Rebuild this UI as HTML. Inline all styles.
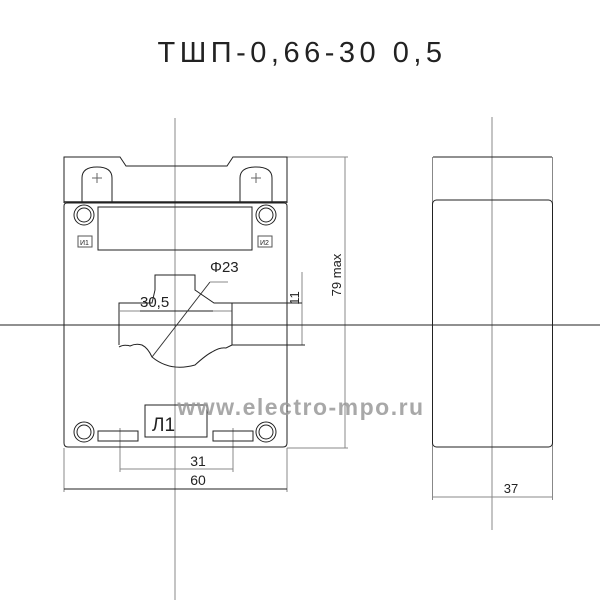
<!DOCTYPE html>
<html><head><meta charset="utf-8"><style>
body{margin:0;background:#fff;}
svg text{font-family:"Liberation Sans","DejaVu Sans",sans-serif;}
</style></head><body>
<svg width="600" height="600" viewBox="0 0 600 600" xmlns="http://www.w3.org/2000/svg">
<rect width="600" height="600" fill="#fff"/>
<text x="302" y="62" font-size="29" text-anchor="middle" letter-spacing="4.5" fill="#222">ТШП-0,66-30 0,5</text>
<g stroke="#888" stroke-width="1" fill="none">
  <line x1="175" y1="118" x2="175" y2="600"/>
  <line x1="492" y1="117" x2="492" y2="530"/>
  <line x1="287" y1="157" x2="348" y2="157"/>
  <line x1="287" y1="448" x2="348" y2="448"/>
  <line x1="345" y1="157" x2="345" y2="448"/>
  <line x1="64" y1="448" x2="64" y2="492"/>
  <line x1="287" y1="448" x2="287" y2="492"/>
  <line x1="120" y1="428" x2="120" y2="472"/>
  <line x1="233" y1="428" x2="233" y2="472"/>
  <line x1="120" y1="469" x2="233" y2="469"/>
  <line x1="432.5" y1="157" x2="432.5" y2="500"/>
  <line x1="552.5" y1="157" x2="552.5" y2="500"/>
  <line x1="432" y1="497" x2="553" y2="497"/>
  <line x1="302" y1="272" x2="302" y2="345"/>
</g>
<g stroke="#222" stroke-width="1" fill="none">
  <line x1="0" y1="325" x2="600" y2="325"/>
  <line x1="64" y1="489" x2="287" y2="489"/>
  <line x1="433" y1="157" x2="552" y2="157"/>
  <rect x="432.5" y="200" width="120" height="247" rx="4"/>
  <path d="M64 203 V157 H120 L126 166 H227 L233 157 H287 V203"/>
  <line x1="64" y1="202" x2="287" y2="202" stroke-width="1.5"/>
  <path d="M82 202 V178 Q82 167 97 167 Q112 167 112 178 V202"/>
  <path d="M240 202 V178 Q240 167 256 167 Q272 167 272 178 V202"/>
  <path d="M92 178 H102 M97 173 V183 M251 178 H261 M256 173 V183" stroke="#666"/>
  <path d="M64 206 Q64 203 67 203 H284 Q287 203 287 206 V443 Q287 447 283 447 H68 Q64 447 64 443 Z"/>
  <circle cx="84" cy="215" r="10"/><circle cx="84" cy="215" r="7"/>
  <circle cx="266" cy="215" r="10"/><circle cx="266" cy="215" r="7"/>
  <circle cx="84" cy="432" r="10"/><circle cx="84" cy="432" r="7"/>
  <circle cx="266" cy="432" r="10"/><circle cx="266" cy="432" r="7"/>
  <rect x="98" y="207" width="154" height="43"/>
  <rect x="78" y="236" width="14" height="11" stroke="#555"/>
  <rect x="258" y="236" width="14" height="11" stroke="#555"/>
  <rect x="98" y="431" width="40" height="10"/>
  <rect x="213" y="431" width="40" height="10"/>
  <rect x="145" y="405" width="62" height="32"/>
  <path d="M119 345 V303 H152 L155 290 V275 H195 V290 L214 303 H302"/>
  <line x1="119" y1="311" x2="232" y2="311" stroke="#888"/>
  <line x1="232" y1="303" x2="232" y2="345"/>
  <line x1="232" y1="345" x2="305" y2="345"/>
  <path d="M119 347 Q124 344 130 346 Q136 343 142 345 Q148 348 152 357 Q170 372 195 365 Q206 355 212 352 Q220 347 226 348 L232 345"/>
  <line x1="140" y1="311" x2="213" y2="311"/>
  <line x1="152" y1="357" x2="210" y2="282" stroke="#333"/>
  <line x1="210" y1="282" x2="228" y2="282" stroke="#888"/>
</g>
<g fill="#222">
  <text x="210" y="272" font-size="15">Φ23</text>
  <text x="140" y="307" font-size="15">30,5</text>
  <text x="299" y="298" font-size="13" transform="rotate(-90 299 298)" text-anchor="middle">11</text>
  <text x="341" y="275" font-size="13" transform="rotate(-90 341 275)" text-anchor="middle">79 max</text>
  <text x="80" y="245" font-size="7">И1</text>
  <text x="260" y="245" font-size="7">И2</text>
  <text x="198" y="466" font-size="14" text-anchor="middle">31</text>
  <text x="198" y="485" font-size="14" text-anchor="middle">60</text>
  <text x="511" y="493" font-size="13" text-anchor="middle">37</text>
</g>
<text x="301" y="415" font-size="23" font-weight="bold" text-anchor="middle" fill="#999" fill-opacity="0.85" letter-spacing="1.5">www.electro-mpo.ru</text>
<text x="152" y="431" font-size="19" fill="#222">Л1</text>
</svg>
</body></html>
